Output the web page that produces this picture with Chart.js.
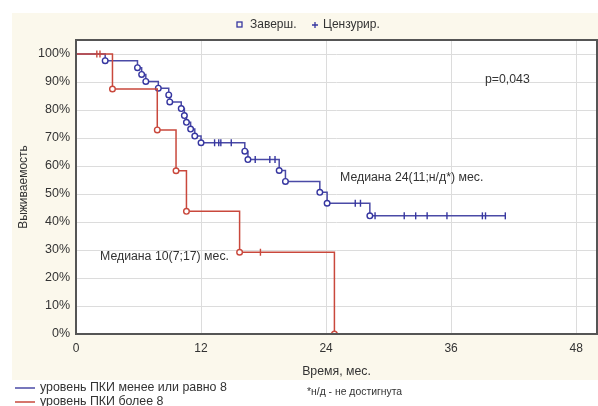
<!DOCTYPE html>
<html>
<head>
<meta charset="utf-8">
<script src="https://cdn.jsdelivr.net/npm/chart.js@4"></script>
<style>
  html, body { margin: 0; padding: 0; background: #fff; }
  canvas { display: block; }
</style>
</head>
<body>
<canvas id="km" width="598" height="406"></canvas>
<script>
const xTicks = [0, 12, 24, 36, 48];
const yTicks = [0, 10, 20, 30, 40, 50, 60, 70, 80, 90, 100];

// уровень ПКИ менее или равно 8
const blueEventTimes = [2.8, 5.9, 6.3, 6.7, 7.9, 8.9, 9.0, 10.1, 10.4, 10.6, 11.0, 11.4, 12.0, 16.2, 16.5, 19.5, 20.1, 23.4, 24.1, 28.2];
const blueEventSurv = [97.6, 95.1, 92.7, 90.2, 87.8, 85.4, 82.9, 80.5, 78.0, 75.6, 73.2, 70.7, 68.3, 65.3, 62.3, 58.4, 54.5, 50.6, 46.7, 42.2];
const blueCensorTimes = [13.3, 13.7, 13.9, 14.9, 17.2, 18.6, 19.1, 26.8, 27.3, 28.7, 31.5, 32.6, 33.7, 35.6, 39.0, 39.3, 41.2];

// уровень ПКИ более 8
const redEventTimes = [3.5, 7.8, 9.6, 10.6, 15.7, 24.8];
const redEventSurv = [87.5, 72.9, 58.3, 43.8, 29.2, 0];
const redCensorTimes = [2.0, 2.3, 17.7];

const blueColor = "#4a4aa6";
const blueMark = "#3636a0";
const redColor = "#c9483c";
const textColor = "#333";
const font = "'Liberation Sans', Arial, sans-serif";

function survAt(times, surv, t) {
  let s = 100;
  times.forEach((et, i) => { if (et <= t) s = surv[i]; });
  return s;
}

function buildCurve(eTimes, eSurv, cTimes) {
  const pts = [{ x: 0, y: 100 }];
  eTimes.forEach((t, i) => pts.push({ x: t, y: eSurv[i] }));
  cTimes.forEach((t) => pts.push({ x: t, y: survAt(eTimes, eSurv, t) }));
  return pts.sort((a, b) => a.x - b.x);
}

function events(eTimes, eSurv) {
  return eTimes.map((t, i) => ({ x: t, y: eSurv[i] }));
}

function censors(eTimes, eSurv, cTimes) {
  return cTimes.map((t) => ({ x: t, y: survAt(eTimes, eSurv, t) }));
}

const decor = {
  id: "decor",
  beforeDraw(chart) {
    const { ctx, chartArea: a } = chart;
    ctx.save();
    ctx.fillStyle = "#fff";
    ctx.fillRect(0, 0, chart.width, chart.height);
    ctx.fillStyle = "#fbf8ec";
    ctx.fillRect(12, 13, chart.width - 12, 367);
    ctx.fillStyle = "#fff";
    ctx.fillRect(a.left, a.top, a.right - a.left, a.bottom - a.top);
    ctx.restore();
  },
  afterDraw(chart) {
    const { ctx, chartArea: a } = chart;
    ctx.save();
    ctx.strokeStyle = "#555";
    ctx.lineWidth = 2;
    ctx.strokeRect(a.left, a.top, a.right - a.left, a.bottom - a.top);

    ctx.fillStyle = textColor;
    ctx.textBaseline = "middle";
    ctx.textAlign = "left";
    ctx.font = "12px " + font;

    // top legend
    ctx.strokeStyle = blueMark;
    ctx.lineWidth = 1.3;
    ctx.strokeRect(237, 22, 5, 5);
    ctx.fillText("Заверш.", 250, 25);
    ctx.beginPath();
    ctx.moveTo(312, 25); ctx.lineTo(318, 25);
    ctx.moveTo(315, 22); ctx.lineTo(315, 28);
    ctx.stroke();
    ctx.fillText("Цензурир.", 323, 25);

    // annotations
    ctx.font = "12.3px " + font;
    ctx.fillText("p=0,043", 485, 80);
    ctx.fillText("Медиана 24(11;н/д*) мес.", 340, 178);
    ctx.fillText("Медиана 10(7;17) мес.", 100, 257);

    // footnote
    ctx.font = "10.4px " + font;
    ctx.fillText("*н/д - не достигнута", 307, 392);

    // bottom legend
    ctx.font = "12.4px " + font;
    ctx.lineWidth = 1.5;
    ctx.strokeStyle = blueColor;
    ctx.beginPath(); ctx.moveTo(15, 388); ctx.lineTo(35, 388); ctx.stroke();
    ctx.fillText("уровень ПКИ менее или равно 8", 40, 388);
    ctx.strokeStyle = redColor;
    ctx.beginPath(); ctx.moveTo(15, 402); ctx.lineTo(35, 402); ctx.stroke();
    ctx.fillText("уровень ПКИ более 8", 40, 402);
    ctx.restore();
  },
};

const markerDefaults = {
  type: "scatter",
  showLine: false,
  pointBackgroundColor: "#fff",
  pointBorderWidth: 1.4,
};

new Chart(document.getElementById("km"), {
  type: "line",
  data: {
    datasets: [
      {
        label: "уровень ПКИ более 8",
        data: buildCurve(redEventTimes, redEventSurv, redCensorTimes),
        borderColor: redColor,
        borderWidth: 1.5,
        stepped: "before",
        pointRadius: 0,
        order: 1,
      },
      {
        ...markerDefaults,
        label: "red events",
        data: events(redEventTimes, redEventSurv),
        pointStyle: "circle",
        pointRadius: 2.8,
        pointBorderColor: redColor,
        order: 0,
      },
      {
        ...markerDefaults,
        label: "red censored",
        data: censors(redEventTimes, redEventSurv, redCensorTimes),
        pointStyle: "line",
        rotation: 90,
        pointRadius: 3.5,
        pointBorderColor: redColor,
        order: 0,
      },
      {
        label: "уровень ПКИ менее или равно 8",
        data: buildCurve(blueEventTimes, blueEventSurv, blueCensorTimes),
        borderColor: blueColor,
        borderWidth: 1.5,
        stepped: "before",
        pointRadius: 0,
        order: 3,
      },
      {
        ...markerDefaults,
        label: "blue events",
        data: events(blueEventTimes, blueEventSurv),
        pointStyle: "circle",
        pointRadius: 2.8,
        pointBorderColor: blueMark,
        order: 2,
      },
      {
        ...markerDefaults,
        label: "blue censored",
        data: censors(blueEventTimes, blueEventSurv, blueCensorTimes),
        pointStyle: "line",
        rotation: 90,
        pointRadius: 3.5,
        pointBorderColor: blueMark,
        order: 2,
      },
    ],
  },
  options: {
    responsive: false,
    animation: false,
    layout: { autoPadding: false, padding: { left: 14, top: 40, right: 1, bottom: 22 } },
    plugins: {
      legend: { display: false },
      tooltip: { enabled: false },
    },
    scales: {
      x: {
        type: "linear",
        min: 0,
        max: 50,
        afterBuildTicks: (s) => { s.ticks = xTicks.map((v) => ({ value: v })); },
        afterFit: (s) => { s.height = 50; },
        grid: { color: "#dcdcdc", drawTicks: false },
        border: { display: false },
        ticks: { padding: 7, color: textColor, font: { family: font, size: 12 } },
        title: {
          display: true,
          text: "Время, мес.",
          color: textColor,
          font: { family: font, size: 12.3 },
          padding: { top: 0, bottom: 5 },
        },
      },
      y: {
        min: 0,
        max: 105,
        afterBuildTicks: (s) => { s.ticks = yTicks.map((v) => ({ value: v })); },
        afterFit: (s) => { s.width = 62; },
        grid: { color: "#dcdcdc", drawTicks: false },
        border: { display: false },
        ticks: {
          padding: 6,
          color: textColor,
          font: { family: font, size: 12.5 },
          callback: (v) => v + "%",
        },
        title: {
          display: true,
          text: "Выживаемость",
          color: textColor,
          font: { family: font, size: 12 },
          padding: { top: 2, bottom: 0 },
        },
      },
    },
  },
  plugins: [decor],
});
</script>
</body>
</html>
